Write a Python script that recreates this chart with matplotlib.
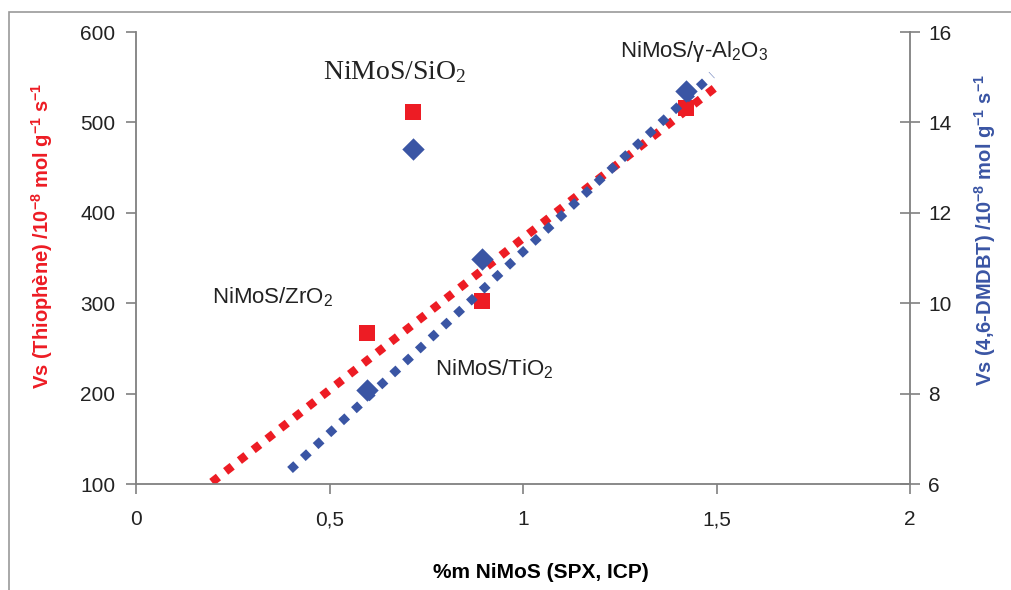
import matplotlib
matplotlib.use("Agg")
import matplotlib.pyplot as plt
from matplotlib.patches import Rectangle

plt.rcParams['font.family'] = ['Liberation Sans', 'DejaVu Sans']
plt.rcParams['mathtext.default'] = 'regular'

supports = ["ZrO2", "SiO2", "TiO2", "Al2O3"]
nimos = [0.597, 0.716, 0.894, 1.421]
vs_thiophene = [267, 512, 302, 516]
vs_dmdbt = [8.08, 13.41, 10.98, 14.69]

trend_red_x = [0.196, 1.504]
trend_red_y = [102, 541]
trend_blue_x = [0.398, 1.488]
trend_blue_y = [6.31, 15.05]

RED = '#ED1C24'
BLUE = '#3A55A4'
GRAY = '#808080'

fig = plt.figure(figsize=(10.11, 5.90), dpi=100)
ax = fig.add_axes([136/1011, 1-484/590, (910-136)/1011, (484-32)/590])
ax2 = ax.twinx()

ax.plot(trend_red_x, trend_red_y, color=RED, lw=6, linestyle=(0, (1, 1.1)), zorder=2)
ax2.plot(trend_blue_x, trend_blue_y, color=BLUE, lw=6, linestyle=(0, (1, 1.1)), zorder=2)
ax.scatter(nimos, vs_thiophene, marker='s', s=130, color=RED, zorder=3, linewidths=0)
ax2.scatter(nimos, vs_dmdbt, marker='D', s=130, color=BLUE, zorder=3, linewidths=0)

ax.set_xlim(0, 2)
ax.set_ylim(100, 600)
ax2.set_ylim(6, 16)
ax.set_xticks([0, 0.5, 1, 1.5, 2])
ax.set_xticklabels(['0', '0,5', '1', '1,5', '2'])
ax.set_yticks([100, 200, 300, 400, 500, 600])
ax2.set_yticks([6, 8, 10, 12, 14, 16])

for a in (ax, ax2):
    a.spines['top'].set_visible(False)
    for s in a.spines.values():
        s.set_color(GRAY)
        s.set_linewidth(1.3)
ax.spines['right'].set_visible(False)
ax2.spines['left'].set_visible(False)
ax2.spines['bottom'].set_visible(False)

ax.tick_params(axis='both', colors='#222222', labelsize=15, length=7, width=1.2, direction='out')
ax.tick_params(axis='x', pad=12)
ax.tick_params(axis='y', pad=8)
ax2.tick_params(axis='y', colors='#222222', labelsize=15, length=14, width=1.2, direction='inout', pad=6)
for a in (ax, ax2):
    a.tick_params(color=GRAY)

ax.set_xlabel('%m NiMoS (SPX, ICP)', fontsize=15, fontweight='bold', labelpad=34)
ax.xaxis.set_label_coords(541/1011 - 136/1011, 0, transform=fig.transFigure)
ax.xaxis.label.set_verticalalignment('center')
ax.xaxis.set_label_coords(541/1011, 1-572/590, transform=fig.transFigure)
ax.set_ylabel(r'Vs (Thiophène) /10$^{-8}$ mol g$^{-1}$ s$^{-1}$', fontsize=14.5, fontweight='bold', color=RED)
ax.yaxis.set_label_coords(42/1011, 1-236/590, transform=fig.transFigure)
ax.yaxis.label.set_verticalalignment('center')
ax2.set_ylabel(r'Vs (4,6-DMDBT) /10$^{-8}$ mol g$^{-1}$ s$^{-1}$', fontsize=14.5, fontweight='bold', color=BLUE)
ax2.yaxis.set_label_coords(985/1011, 1-230/590, transform=fig.transFigure)
ax2.yaxis.label.set_verticalalignment('center')

fig.text(212/1011, 1-297/590, r'NiMoS/ZrO$_2$', fontsize=16, va='center', ha='left', color='#222222')
fig.text(323/1011, 1-72/590, r'NiMoS/SiO$_2$', fontsize=20, va='center', ha='left', color='#222222',
         family=['Liberation Serif'])
fig.text(435/1011, 1-369/590, r'NiMoS/TiO$_2$', fontsize=16, va='center', ha='left', color='#222222')
fig.text(620/1011, 1-52/590, r'NiMoS/γ-Al$_2$O$_3$', fontsize=16, va='center', ha='left', color='#222222')

fig.patches.append(Rectangle((9/1011, -0.1), 1.1, 1 - 12/590 + 0.1, transform=fig.transFigure,
                             fill=False, edgecolor='#999999', lw=1.2))

fig.savefig('out.png', dpi=100)
